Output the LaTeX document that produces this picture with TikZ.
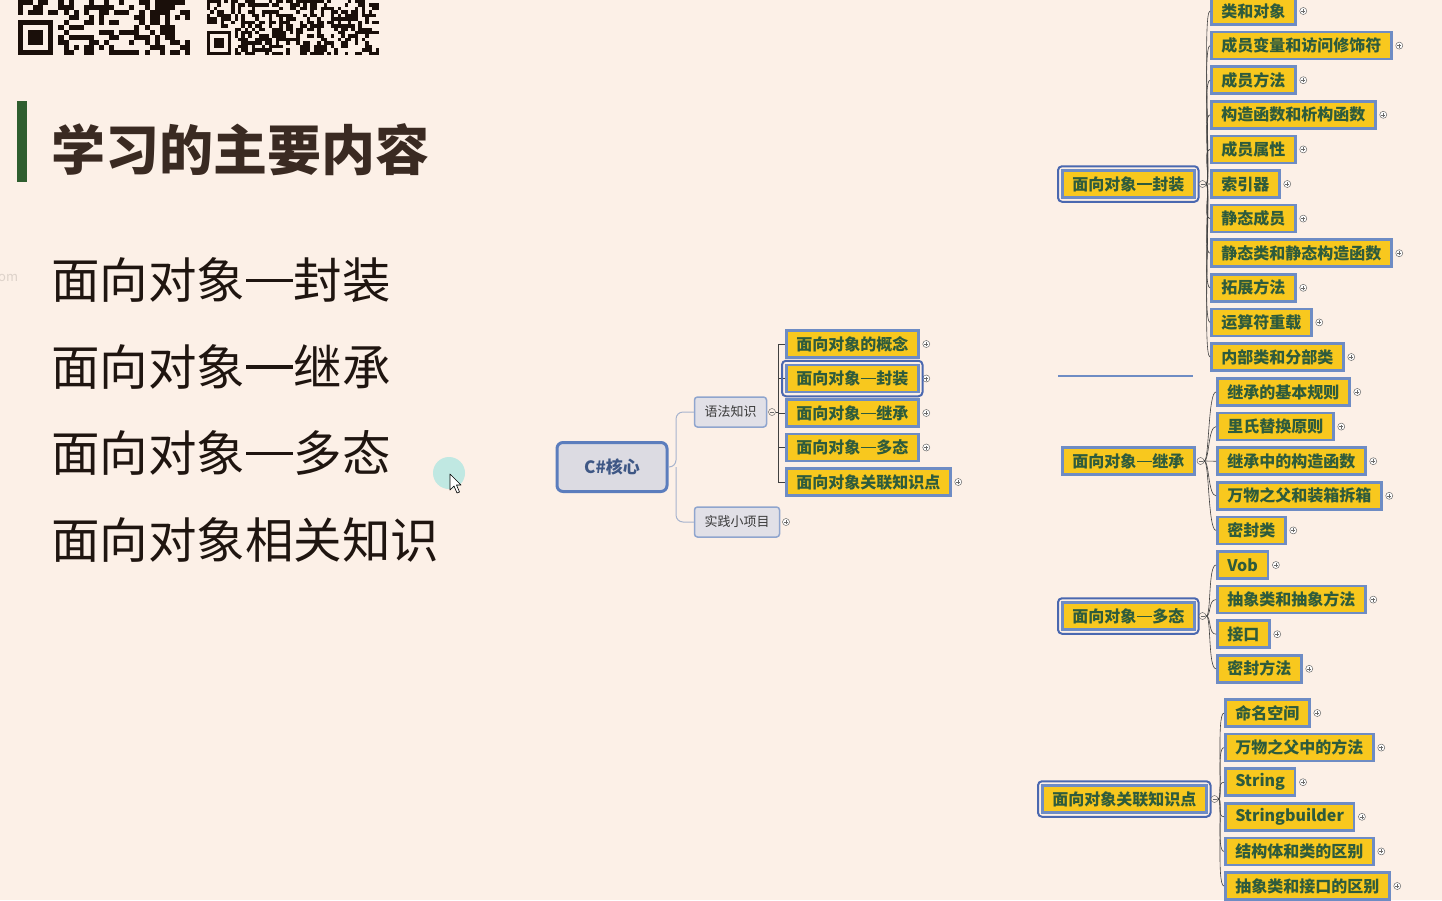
\documentclass[tikz,border=0pt]{standalone}
\usepackage{fontspec}
\setmainfont{Noto Sans CJK SC}
\usetikzlibrary{positioning}

\definecolor{bgpeach}{HTML}{FCF0E7}
\definecolor{titlebrown}{HTML}{3A2A22}
\definecolor{listdark}{HTML}{1F1510}
\definecolor{bargreen}{HTML}{2F5E2F}
\definecolor{qrdark}{HTML}{1A0F0A}
\definecolor{topicfill}{HTML}{F8C81E}
\definecolor{topicedge}{HTML}{6E8CC4}
\definecolor{topictext}{HTML}{2E5B3C}
\definecolor{selblue}{HTML}{4A68B0}
\definecolor{corefill}{HTML}{DCDBE2}
\definecolor{coreedge}{HTML}{5B7DBD}
\definecolor{coretext}{HTML}{3E5785}
\definecolor{subfill}{HTML}{E1E0E7}
\definecolor{subedge}{HTML}{8FA5CE}
\definecolor{subtext}{HTML}{3A3A3A}
\definecolor{markgrey}{HTML}{6A6A6A}
\definecolor{trunkblue}{HTML}{A7B4CE}
\definecolor{cursorteal}{HTML}{C0E8E2}
\definecolor{faintgrey}{HTML}{DDD2CA}

\tikzset{
  topic/.style={draw=topicedge, line width=2.5pt, fill=topicfill, text=topictext,
    font=\bfseries\fontsize{16}{18}\selectfont, inner xsep=10pt, inner ysep=0pt,
    minimum height=27pt, anchor=west},
  subtopic/.style={draw=subedge, line width=1.5pt, fill=subfill, text=subtext,
    rounded corners=3pt, font=\fontsize{13}{15}\selectfont, inner xsep=10pt,
    inner ysep=0pt, minimum height=30pt},
  plusmk/.style={circle, draw=markgrey, line width=0.5pt, fill=white, minimum size=7pt,
    inner sep=0pt, path picture={\draw[markgrey, line width=0.5pt]
      ([xshift=1.5pt]path picture bounding box.west) -- ([xshift=-1.5pt]path picture bounding box.east)
      ([yshift=1.5pt]path picture bounding box.south) -- ([yshift=-1.5pt]path picture bounding box.north);}},
  minusmk/.style={circle, draw=markgrey, line width=0.5pt, fill=bgpeach, minimum size=7pt,
    inner sep=0pt, path picture={\draw[markgrey, line width=0.5pt]
      ([xshift=1.5pt]path picture bounding box.west) -- ([xshift=-1.5pt]path picture bounding box.east);}},
  branch/.style={draw=black!75, line width=0.6pt},
  trunk/.style={draw=trunkblue, line width=1pt, rounded corners=7pt},
  selring/.style={draw=selblue, line width=2pt, rounded corners=4pt},
  listitem/.style={anchor=west, inner sep=0pt, text=listdark, font=\fontsize{48.5}{56}\selectfont}
}

% full width dash, as the slide sets it
\newcommand{\fwdash}{\hspace{0.02em}\rule[0.34em]{0.96em}{0.07em}\hspace{0.02em}}
% rounded frame round a selected topic
\newcommand{\selframe}[1]{\draw[selring] ([shift={(-3pt,-3pt)}]#1.south west) rectangle ([shift={(3pt,3pt)}]#1.north east);}

\begin{document}
\begin{tikzpicture}[x=1pt,y=-1pt]
  \fill[bgpeach] (0,0) rectangle (1442,900);
  \useasboundingbox (0,0) rectangle (1442,900);

  % qr codes at the top
  \pgfmathsetseed{11}
  \foreach \i in {0,...,33}
    \foreach \j in {0,...,10} {
      \pgfmathrandominteger{\q}{0}{1}
      \ifnum\q=1 \fill[qrdark] (18+\i*5.06,\j*5) rectangle +(5.06,5); \fi
    }
  \foreach \i in {0,...,49}
    \foreach \j in {0,...,15} {
      \pgfmathrandominteger{\q}{0}{1}
      \ifnum\q=1 \fill[qrdark] (207+\i*3.44,\j*3.44) rectangle +(3.44,3.44); \fi
    }
  \fill[bgpeach] (18,15) rectangle (58,55);
  \fill[qrdark] (18,20) rectangle (53,55);
  \fill[bgpeach] (23,25) rectangle (48,50);
  \fill[qrdark] (28,30) rectangle (43,45);
  \fill[bgpeach] (207,27.5) rectangle (234.5,55);
  \fill[qrdark] (207,31) rectangle (231,55);
  \fill[bgpeach] (210.4,34.4) rectangle (227.6,51.6);
  \fill[qrdark] (213.9,37.9) rectangle (224.1,48.1);

  % title and list
  \fill[bargreen] (17,101) rectangle (27,182);
  \node[anchor=west, inner sep=0pt, text=titlebrown, font=\bfseries\fontsize{54}{60}\selectfont] (title) at (51,150) {学习的主要内容};
  \foreach \t [count=\i] in {面向对象\fwdash 封装,面向对象\fwdash 继承,面向对象\fwdash 多态,面向对象相关知识}
    \node[listitem] (l\i) at (51,{280+(\i-1)*86.7}) {\t};
  \node[anchor=west, inner sep=0pt, text=faintgrey, font=\fontsize{13}{13}\selectfont] (om) at (-2,278) {om};

  % cursor
  \fill[cursorteal] (449,473) circle (16);
  \draw[fill=white, line width=0.6pt, line join=round] (450,474) -- (450,490) -- (454,486) -- (457,493) -- (459.5,492) -- (456.5,485) -- (461,485) -- cycle;

  % small map
  \node[draw=coreedge, line width=3pt, fill=corefill, rounded corners=6pt, text=coretext,
        font=\bfseries\fontsize{17}{19}\selectfont, minimum width=110pt, minimum height=49pt] (core) at (612,467) {C\#核心};
  \node[subtopic] (yufa) at (730.5,412) {语法知识};
  \node[subtopic] (shijian) at (737,522) {实践小项目};
  \node[minusmk, right=1pt of yufa] (yufam) {};
  \node[plusmk, right=2pt of shijian] (shijianp) {};
  \coordinate (cj) at (676,467);
  \draw[trunk] (core.east) -- (cj) |- (yufa.west);
  \draw[trunk] (cj) |- (shijian.west);
  \coordinate (hub) at (778,412);
  \draw[branch] (yufam.east) -- (hub);
  \foreach \t [count=\i] in {面向对象的概念,面向对象\fwdash 封装,面向对象\fwdash 继承,面向对象\fwdash 多态,面向对象关联知识点} {
    \node[topic] (g\i) at (785,{344+(\i-1)*34.5}) {\t};
    \node[plusmk, right=3pt of g\i] (g\i p) {};
    \draw[branch] (hub) |- (g\i.west);
  }
  \selframe{g2}

  % stray rule
  \draw[topicedge, line width=1.5pt] (1058,376) -- (1193,376);

  % group one
  \node[topic] (f0) at (1061,184) {面向对象\fwdash 封装};
  \selframe{f0}
  \node[minusmk] (f0m) at ([xshift=7pt]f0.east) {};
  \foreach \t [count=\i] in {类和对象,成员变量和访问修饰符,成员方法,构造函数和析构函数,成员属性,索引器,静态成员,静态类和静态构造函数,拓展方法,运算符重载,内部类和分部类} {
    \node[topic] (f\i) at (1210,{11+(\i-1)*34.6}) {\t};
    \node[plusmk, right=3pt of f\i] (f\i p) {};
    \draw[branch] (f0m.east) .. controls +(5,0) and +(-8,0) .. (f\i.west);
  }

  % group two
  \node[topic] (h0) at (1061,461) {面向对象\fwdash 继承};
  \node[minusmk] (h0m) at ([xshift=5pt]h0.east) {};
  \foreach \t [count=\i] in {继承的基本规则,里氏替换原则,继承中的构造函数,万物之父和装箱拆箱,密封类} {
    \node[topic] (h\i) at (1216,{392+(\i-1)*34.6}) {\t};
    \node[plusmk, right=3pt of h\i] (h\i p) {};
    \draw[branch] (h0m.east) .. controls +(5,0) and +(-8,0) .. (h\i.west);
  }

  % group three
  \node[topic] (k0) at (1061,616) {面向对象\fwdash 多态};
  \selframe{k0}
  \node[minusmk] (k0m) at ([xshift=7pt]k0.east) {};
  \foreach \t [count=\i] in {Vob,抽象类和抽象方法,接口,密封方法} {
    \node[topic] (k\i) at (1216,{565+(\i-1)*34.6}) {\t};
    \node[plusmk, right=3pt of k\i] (k\i p) {};
    \draw[branch] (k0m.east) .. controls +(5,0) and +(-8,0) .. (k\i.west);
  }

  % group four
  \node[topic] (m0) at (1041,799) {面向对象关联知识点};
  \selframe{m0}
  \node[minusmk] (m0m) at ([xshift=7pt]m0.east) {};
  \foreach \t [count=\i] in {命名空间,万物之父中的方法,String,Stringbuilder,结构体和类的区别,抽象类和接口的区别} {
    \node[topic] (m\i) at (1224,{713+(\i-1)*34.6}) {\t};
    \node[plusmk, right=3pt of m\i] (m\i p) {};
    \draw[branch] (m0m.east) .. controls +(5,0) and +(-8,0) .. (m\i.west);
  }
\end{tikzpicture}
\end{document}
